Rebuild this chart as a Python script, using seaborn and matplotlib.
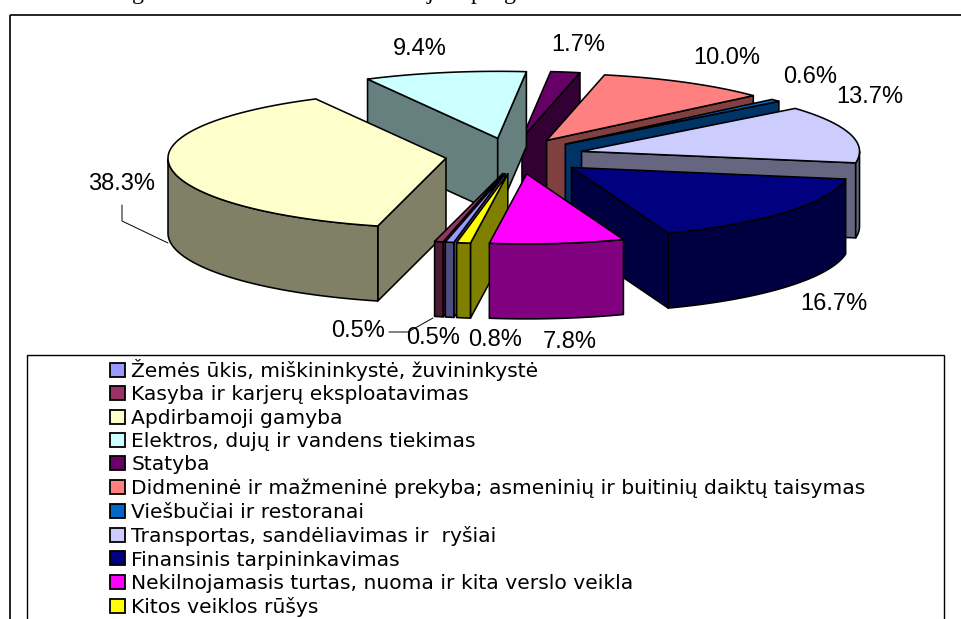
import numpy as np
import matplotlib
matplotlib.use("Agg")
import matplotlib.pyplot as plt
from matplotlib.patches import Patch, Rectangle
import seaborn as sns

categories = [
    "Žemės ūkis, miškininkystė, žuvininkystė",
    "Kasyba ir karjerų eksploatavimas",
    "Apdirbamoji gamyba",
    "Elektros, dujų ir vandens tiekimas",
    "Statyba",
    "Didmeninė ir mažmeninė prekyba; asmeninių ir buitinių daiktų taisymas",
    "Viešbučiai ir restoranai",
    "Transportas, sandėliavimas ir  ryšiai",
    "Finansinis tarpininkavimas",
    "Nekilnojamasis turtas, nuoma ir kita verslo veikla",
    "Kitos veiklos rūšys",
]
shares = [0.5, 0.5, 38.3, 9.4, 1.7, 10.0, 0.6, 13.7, 16.7, 7.8, 0.8]
value_labels = ["0.5%", "0.5%", "38.3%", "9.4%", "1.7%", "10.0%", "0.6%", "13.7%", "16.7%", "7.8%", "0.8%"]
label_xy = [(358, 331), (433, 338), (122, 184), (420, 49), (578, 45), (727, 58),
            (810, 77), (870, 97), (834, 304), (570, 342), (495, 340)]
hex_colors = ["#9999FF", "#993366", "#FFFFCC", "#CCFFFF", "#660066", "#FF8080",
              "#0066CC", "#CCCCFF", "#000080", "#FF00FF", "#FFFF00"]

# projection of the tilted, exploded pie (pixels)
CX, CY, RX, RY_FRONT, RY_BACK, DEPTH = 515.0, 156.0, 278.0, 70.0, 67.0, 75.0
EXPLODE_X, EXPLODE_Y, SKEW = 70.0, 18.0, 4.0
START_DEG = 10.6

sns.set_theme(style="white")
plt.rcParams["font.family"] = ["Liberation Sans", "DejaVu Sans"]
palette = sns.color_palette(hex_colors)
EDGE = "black"
LW = 1.15

fig = plt.figure(figsize=(9.61, 6.19), dpi=100)
ax = fig.add_axes([0, 0, 1, 1])
ax.set_xlim(0, 961)
ax.set_ylim(619, 0)
ax.axis("off")

# cropped surrounding text and frames
for ch, x in [("g", 138), ("j", 430), ("p", 477), ("g", 510)]:
    ax.text(x, -1, ch, family="Liberation Serif", fontsize=17.3, ha="center", va="baseline", color="black")
ax.add_patch(Rectangle((10, 15), 1200, 900, fill=False, ec="black", lw=1.2))


def point(theta, apex):
    c = np.cos(theta)
    ry = RY_FRONT if c > 0 else RY_BACK
    return np.array([apex[0] - RX * np.sin(theta), apex[1] + ry * c])


def wall(a, b):
    """extruded strip below an outline"""
    pts = np.vstack([a, b])
    low = pts[::-1] + [0, DEPTH]
    return np.vstack([pts, low])


fractions = np.array(shares) / np.sum(shares) * 2 * np.pi
starts = np.radians(START_DEG) + np.concatenate([[0], np.cumsum(fractions)[:-1]])
mids = starts + fractions / 2

for i in np.argsort(np.cos(mids)):
    t0, t1, mid = starts[i], starts[i] + fractions[i], mids[i]
    apex = np.array([CX - EXPLODE_X * np.sin(mid) + SKEW * np.cos(mid),
                     CY + EXPLODE_Y * np.cos(mid)])
    thetas = np.linspace(t0, t1, 80)
    arc = np.array([point(t, apex) for t in thetas])
    top = palette[i]
    side = tuple(0.5 * c for c in top)
    inner = point(mid, apex) * 0.2 + apex * 0.8

    for end in (arc[0], arc[-1]):
        d = end - apex
        n = np.array([-d[1], d[0]])
        if np.dot(n, inner - apex) > 0:
            n = -n
        if n[1] > 0:
            ax.fill(*wall(apex[None, :], end[None, :]).T, fc=side, ec=EDGE, lw=LW, joinstyle="round")
    front = np.cos(thetas) > 0
    if front.any():
        idx = np.where(front)[0]
        ax.fill(*wall(arc[idx[0]:idx[-1] + 1], np.empty((0, 2))).T, fc=side, ec=EDGE, lw=LW, joinstyle="round")
    ax.fill(*np.vstack([apex, arc]).T, fc=top, ec=EDGE, lw=LW, joinstyle="round")

for text, (x, y) in zip(value_labels, label_xy):
    ax.text(x, y, text, fontsize=17, ha="center", va="center", color="black")

# leader lines
ax.plot([122, 122, 168], [205, 221, 243], color="black", lw=0.7)
ax.plot([389, 408, 433], [332, 332, 318], color="black", lw=0.7)

# legend
ax.add_patch(Rectangle((26.5, 355), 917.5, 400, fc="white", ec="black", lw=1.0))
handles = [Patch(fc=c, ec="black", lw=1.3) for c in palette]
leg = ax.legend(handles, categories, loc="upper left", bbox_to_anchor=(105, 354),
                bbox_transform=ax.transData, frameon=False,
                prop={"family": "DejaVu Sans", "size": 14.6},
                labelspacing=0.217, handlelength=0.77, handleheight=0.69,
                handletextpad=0.29, borderpad=0.24, borderaxespad=0)
for t in leg.get_texts():
    t.set_color("black")

fig.savefig("out.png", dpi=100)
